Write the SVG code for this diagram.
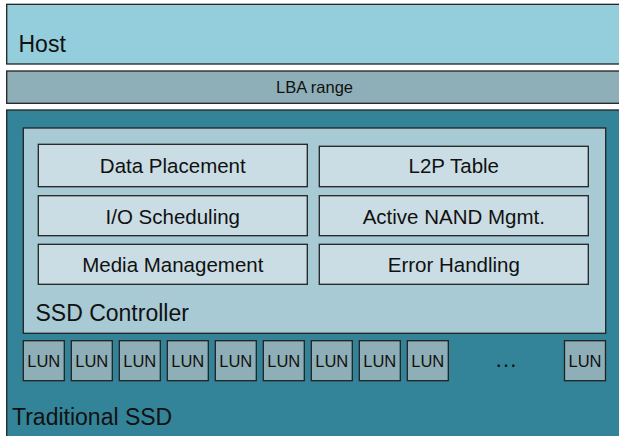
<svg xmlns="http://www.w3.org/2000/svg" width="619" height="436" viewBox="0 0 619 436">
  <style>
    text { font-family: "Liberation Sans", Arial, Helvetica, sans-serif; fill: #111; }
    .edge { stroke: #222; stroke-width: 1.3; }
    .host { fill: #94cddb; }
    .lba { fill: #8fafb8; }
    .ssd { fill: #348499; }
    .ctrl { fill: #a8cad4; }
    .fn { fill: #cadde4; }
    .lun { fill: #8fafb8; }
    .big { font-size: 23px; }
    .mid { font-size: 20.5px; text-anchor: middle; }
    .small { font-size: 16.5px; text-anchor: middle; }
    .lunlbl { font-size: 16.5px; text-anchor: middle; }
  </style>
  <defs>
    <rect id="lunBox" x="0" y="0" width="41" height="40" class="lun edge"/>
  </defs>

  <rect width="619" height="436" fill="#ffffff"/>

  <!-- host layer -->
  <g id="host">
    <rect x="6.7" y="4.3" width="620" height="59.7" class="host edge"/>
    <text x="18.5" y="51.7" class="big">Host</text>
  </g>

  <!-- logical block address range -->
  <g id="lba-range">
    <rect x="6.7" y="71" width="620" height="32.3" class="lba edge"/>
    <text x="314.5" y="92.7" class="small">LBA range</text>
  </g>

  <!-- drive enclosure -->
  <g id="traditional-ssd">
    <rect x="6.7" y="110" width="620" height="340" class="ssd edge"/>
    <text x="12" y="425" class="big">Traditional SSD</text>
  </g>

  <!-- controller with its functions -->
  <g id="ssd-controller">
    <rect x="23.3" y="128" width="582.4" height="205.3" class="ctrl edge"/>
    <text x="35.5" y="320.7" class="big">SSD Controller</text>
  </g>

  <g id="data-placement">
    <rect x="38.3" y="144.3" width="269" height="42.4" class="fn edge"/>
    <text x="172.8" y="173.3" class="mid">Data Placement</text>
  </g>
  <g id="l2p-table">
    <rect x="319.3" y="146.3" width="269" height="40.4" class="fn edge"/>
    <text x="453.8" y="173.3" class="mid">L2P Table</text>
  </g>
  <g id="io-scheduling">
    <rect x="38.3" y="195.7" width="269" height="40" class="fn edge"/>
    <text x="172.8" y="223.7" class="mid">I/O Scheduling</text>
  </g>
  <g id="active-nand-mgmt">
    <rect x="319.3" y="195.7" width="269" height="40" class="fn edge"/>
    <text x="453.8" y="223.7" class="mid">Active NAND Mgmt.</text>
  </g>
  <g id="media-management">
    <rect x="38.3" y="244.3" width="269" height="40" class="fn edge"/>
    <text x="172.8" y="271.7" class="mid">Media Management</text>
  </g>
  <g id="error-handling">
    <rect x="319.3" y="244.3" width="269" height="40" class="fn edge"/>
    <text x="453.8" y="271.7" class="mid">Error Handling</text>
  </g>

  <!-- flash dies -->
  <g id="lun-1"><use href="#lunBox" x="23.3" y="340.7"/><text x="43.8" y="366.7" class="lunlbl">LUN</text></g>
  <g id="lun-2"><use href="#lunBox" x="71.3" y="340.7"/><text x="91.8" y="366.7" class="lunlbl">LUN</text></g>
  <g id="lun-3"><use href="#lunBox" x="119.3" y="340.7"/><text x="139.8" y="366.7" class="lunlbl">LUN</text></g>
  <g id="lun-4"><use href="#lunBox" x="167.3" y="340.7"/><text x="187.8" y="366.7" class="lunlbl">LUN</text></g>
  <g id="lun-5"><use href="#lunBox" x="215.3" y="340.7"/><text x="235.8" y="366.7" class="lunlbl">LUN</text></g>
  <g id="lun-6"><use href="#lunBox" x="263.3" y="340.7"/><text x="283.8" y="366.7" class="lunlbl">LUN</text></g>
  <g id="lun-7"><use href="#lunBox" x="311.3" y="340.7"/><text x="331.8" y="366.7" class="lunlbl">LUN</text></g>
  <g id="lun-8"><use href="#lunBox" x="359.3" y="340.7"/><text x="379.8" y="366.7" class="lunlbl">LUN</text></g>
  <g id="lun-9"><use href="#lunBox" x="407.3" y="340.7"/><text x="427.8" y="366.7" class="lunlbl">LUN</text></g>
  <g id="lun-ellipsis"><text x="506" y="367.3" style="font-size:23px;text-anchor:middle">…</text></g>
  <g id="lun-n"><use href="#lunBox" x="564.5" y="340.7"/><text x="585" y="366.7" class="lunlbl">LUN</text></g>

  <!-- no connectors in this layered diagram -->
  <g id="connectors"/>
</svg>
